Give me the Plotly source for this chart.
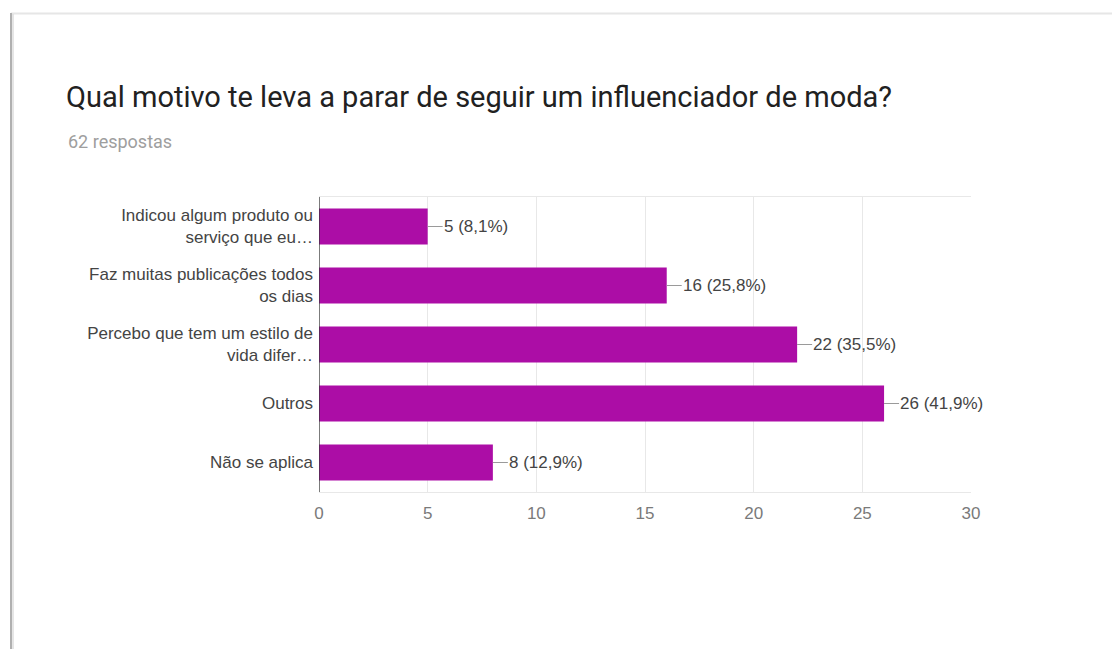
import plotly.graph_objects as go

categories = [
    "Indicou algum produto ou<br>serviço que eu…",
    "Faz muitas publicações todos<br>os dias",
    "Percebo que tem um estilo de<br>vida difer…",
    "Outros",
    "Não se aplica",
]
counts = [5, 16, 22, 26, 8]
total_responses = 62
x_ticks = [0, 5, 10, 15, 20, 25, 30]

title_text = "Qual motivo te leva a parar de seguir um influenciador de moda?"
subtitle_text = f"{total_responses} respostas"

W, H = 1120, 649
S = 8  # page body margin offset
L, R, T, B = 319 - S, 971 - S, 197 - S, 492 - S  # plot area in pixels


def px_x(px):
    return (px - S - L) / (R - L)


def px_y(py):
    return (B - (py - S)) / (B - T)


labels = [f"{c} ({c / total_responses * 100:.1f}%)".replace(".", ",") for c in counts]

fig = go.Figure()
fig.add_trace(
    go.Bar(
        x=counts,
        y=categories,
        orientation="h",
        marker=dict(color="#AC0DA6", line=dict(width=0)),
        hoverinfo="skip",
    )
)

annotations = []
for c, cat, lab in zip(counts, categories, labels):
    annotations.append(
        dict(
            x=c, y=cat, xref="x", yref="y",
            text=lab, showarrow=True, arrowhead=0, arrowwidth=1,
            arrowcolor="#9a9a9a", ax=15, ay=0, xanchor="left", yanchor="middle",
            borderpad=0,
            font=dict(family="Arial, Liberation Sans, sans-serif", size=17, color="#444444"),
        )
    )

annotations.append(
    dict(
        x=px_x(66), y=px_y(141), xref="paper", yref="paper",
        text=subtitle_text, showarrow=False, xanchor="left", yanchor="middle",
        font=dict(family="Roboto, sans-serif", size=18, color="#9e9e9e"),
    )
)

shapes = [
    dict(type="line", xref="paper", yref="paper", x0=px_x(11), x1=px_x(1130),
         y0=px_y(13.5), y1=px_y(13.5), line=dict(color="#e6e6e6", width=2)),
    dict(type="line", xref="paper", yref="paper", x0=px_x(11), x1=px_x(11),
         y0=px_y(13), y1=px_y(660), line=dict(color="#b0b0b0", width=2)),
    dict(type="line", xref="paper", yref="paper", x0=px_x(13), x1=px_x(13),
         y0=px_y(14), y1=px_y(660), line=dict(color="#dcdcdc", width=1.5)),
]

fig.update_layout(
    width=W, height=H,
    margin=dict(l=L, r=W - R, t=T, b=H - B, pad=0),
    paper_bgcolor="white", plot_bgcolor="white",
    bargap=0.39,
    showlegend=False,
    title=dict(
        text=title_text, xref="container", yref="container",
        x=(66 - S) / W, xanchor="left", y=1 - (97 - S) / H, yanchor="middle",
        font=dict(family="Roboto, sans-serif", size=29, color="#212121"),
    ),
    annotations=annotations,
    shapes=shapes,
    xaxis=dict(
        range=[0, 30], tickvals=x_ticks, ticktext=[str(v) for v in x_ticks],
        showgrid=True, gridcolor="#e8e8e8", gridwidth=1,
        zeroline=False, showline=True, linecolor="#e8e8e8", linewidth=1, mirror=True,
        ticks="", ticklabelstandoff=6,
        tickfont=dict(family="Arial, Liberation Sans, sans-serif", size=17, color="#7a7a7a"),
        fixedrange=True,
    ),
    yaxis=dict(
        autorange="reversed", showgrid=False, zeroline=False,
        showline=False, ticks="", ticklabelstandoff=5,
        tickfont=dict(family="Arial, Liberation Sans, sans-serif", size=17, color="#444444"),
        fixedrange=True,
    ),
)

fig.add_shape(type="line", xref="x", yref="paper", x0=0, x1=0, y0=0, y1=1,
              line=dict(color="#333333", width=1.3), layer="above")

fig.write_html("out.html")
